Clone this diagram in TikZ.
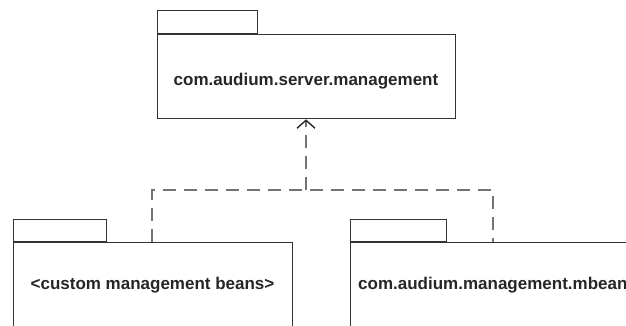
\documentclass[tikz,border=0pt]{standalone}
\usepackage{fontspec}
\setmainfont{Liberation Sans}
\usetikzlibrary{arrows.meta}
\begin{document}
\begin{tikzpicture}[x=1pt,y=-1pt,
  pkgline/.style={draw=black!80,line width=1.3pt},
  body/.style={pkgline,rectangle,inner sep=0pt,anchor=north west},
  tab/.style={pkgline,rectangle,inner sep=0pt,anchor=south west,minimum height=23pt},
  lbl/.style={font=\fontsize{17}{20}\selectfont\bfseries,text=black!85,inner sep=0pt},
  dep/.style={draw=black!55,line width=2pt,dash pattern=on 13pt off 8pt}]
\useasboundingbox (0,0) rectangle (626,325);
\clip (0,0) rectangle (626,325);
% top package
\node[body,minimum width=298pt,minimum height=84pt] (top) at (157,34) {};
\node[tab,minimum width=100pt] (toptab) at (top.north west) {};
\node[lbl] (toplbl) at (306,81) {com.audium.server.management};
% bottom-left package
\node[body,minimum width=279pt,minimum height=110pt] (left) at (13,242) {};
\node[tab,minimum width=93pt,minimum height=22pt] (lefttab) at (left.north west) {};
\node[lbl] (leftlbl) at (152.5,285) {<custom management beans>};
% bottom-right package
\node[body,minimum width=320pt,minimum height=110pt] (right) at (350,242) {};
\node[tab,minimum width=96pt,minimum height=22pt] (righttab) at (right.north west) {};
\node[lbl,anchor=west] (rightlbl) at (358,285) {com.audium.management.mbeans};
% dependency connectors
\coordinate (j) at (306,190);
\coordinate (jl) at (152,190);
\coordinate (jr) at (493,190);
\draw[dep] (left.north west -| jl) -- (jl) -- (jr) -- (right.north west -| jr);
\draw[dep,-{Straight Barb[length=8pt,width=18pt,line width=1.4pt,color=black!85]}] (j) -- (top.south -| j);
\end{tikzpicture}
\end{document}
